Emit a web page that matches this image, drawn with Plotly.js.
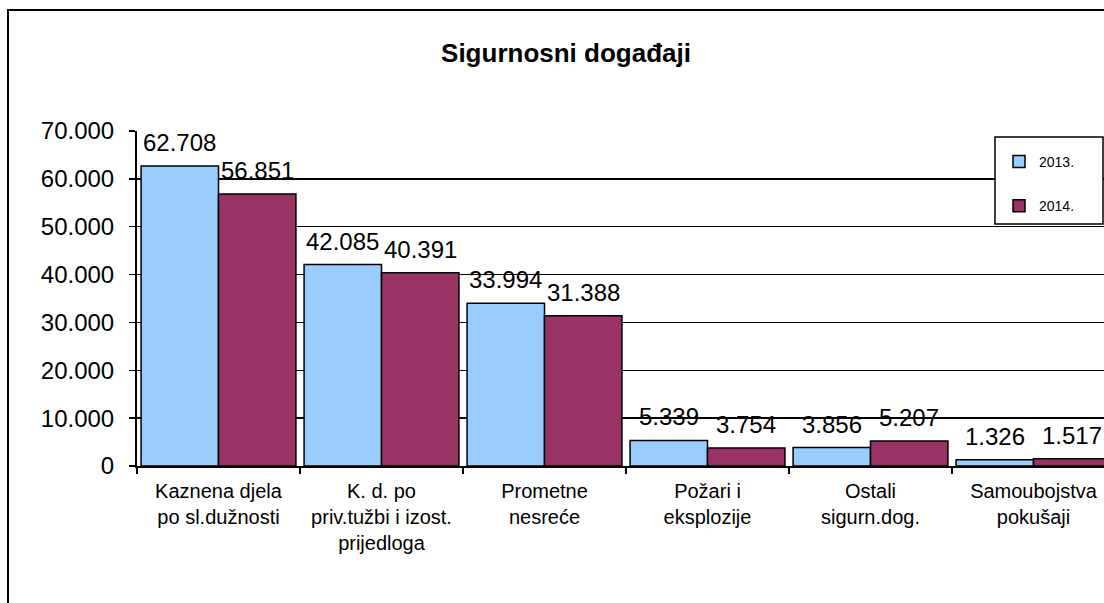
<!DOCTYPE html>
<html>
<head>
<meta charset="utf-8">
<script src="https://cdn.plot.ly/plotly-3.0.1.min.js"></script>
<style>html,body{margin:0;padding:0;background:#fff;}#chart{width:1104px;height:603px;}</style>
</head>
<body>
<div id="chart"></div>
<script>
const categories = [
  "Kaznena djela<br>po sl.dužnosti",
  "K. d. po<br>priv.tužbi i izost.<br>prijedloga",
  "Prometne<br>nesreće",
  "Požari i<br>eksplozije",
  "Ostali<br>sigurn.dog.",
  "Samoubojstva<br>pokušaji"
];
const values2013 = [62708, 42085, 33994, 5339, 3856, 1326];
const values2014 = [56851, 40391, 31388, 3754, 5207, 1517];
const seriesNames = ["2013.", "2014."];
const yTickVals = [0, 10000, 20000, 30000, 40000, 50000, 60000, 70000];
const yTickText = ["0", "10.000", "20.000", "30.000", "40.000", "50.000", "60.000", "70.000"];

const W = 1104, H = 603;
const mL = 137, mR = 0, mT = 131, mB = 137;
const plotW = W - mL - mR, plotH = H - mT - mB;
const catPx = 163;
const bargap = 0.05;
const barHalf = (1 - bargap) / 4; // offset of each bar centre from category centre

const font = "Liberation Sans, Arial, sans-serif";

function fmt(v) {
  return String(v).replace(/\B(?=(\d{3})+(?!\d))/g, ".");
}

function barTrace(name, vals, color, group) {
  return {
    type: "bar",
    name: name,
    x: categories,
    y: vals,
    legendgroup: group,
    marker: {color: color, line: {color: "#000", width: 1.5}},
    hoverinfo: "x+y"
  };
}

const data = [
  barTrace(seriesNames[0], values2013, "#99CCFF", "a"),
  barTrace(seriesNames[1], values2014, "#993366", "b")
];

const annotations = [];
[values2013, values2014].forEach((vals, s) => {
  vals.forEach((v, i) => {
    annotations.push({
      xref: "x", yref: "y",
      x: i + (s === 0 ? -barHalf : barHalf),
      y: v,
      text: fmt(v),
      showarrow: false,
      xanchor: "center", yanchor: "bottom",
      yshift: 8,
      font: {family: font, size: 24, color: "#000"}
    });
  });
});

// legend frame (pixel box of the reference legend)
const lgL = 995, lgR = 1103, lgT = 137, lgB = 224;

const layout = {
  width: W, height: H,
  margin: {l: mL, r: mR, t: mT, b: mB, pad: 0},
  paper_bgcolor: "#fff",
  plot_bgcolor: "#fff",
  separators: ",.",
  font: {family: font, color: "#000"},
  title: {
    text: "<b>Sigurnosni događaji</b>",
    font: {family: font, size: 26, color: "#000"},
    xref: "container", x: 566 / W, xanchor: "center",
    yref: "container", y: 1 - 53 / H, yanchor: "middle"
  },
  barmode: "group",
  bargap: bargap,
  bargroupgap: 0,
  showlegend: true,
  legend: {
    x: (lgL + 4 - mL) / plotW, xanchor: "left",
    y: 1 - (lgT + 9 - mT) / plotH, yanchor: "top",
    bgcolor: "rgba(0,0,0,0)",
    borderwidth: 0,
    font: {family: font, size: 14, color: "#000"},
    traceorder: "grouped",
    tracegroupgap: 23,
    itemwidth: 30
  },
  annotations: annotations,
  xaxis: {
    type: "category",
    range: [-0.5, 5.5 - 11 / catPx],
    showline: true, linecolor: "#000", linewidth: 2,
    ticks: "outside", tickson: "boundaries", ticklen: 6, tickcolor: "#000", tickwidth: 1.5,
    tickfont: {family: font, size: 20, color: "#000"},
    ticklabelstandoff: 6,
    tickangle: 0,
    showgrid: false,
    zeroline: false,
    fixedrange: true
  },
  yaxis: {
    range: [0, 70000],
    tickvals: yTickVals,
    ticktext: yTickText,
    showline: true, linecolor: "#000", linewidth: 2,
    ticks: "outside", ticklen: 6, tickcolor: "#000", tickwidth: 1.5,
    tickfont: {family: font, size: 24, color: "#000"},
    ticklabelstandoff: 10,
    showgrid: true, gridcolor: "#000", gridwidth: 1.5,
    zeroline: false,
    fixedrange: true
  },
  shapes: [
    {
      type: "rect", xref: "paper", yref: "paper",
      x0: (8 - mL) / plotW, x1: 1.1,
      y0: -0.6, y1: (H - mB - 10) / plotH,
      line: {color: "#000", width: 2},
      fillcolor: "rgba(0,0,0,0)",
      layer: "below"
    },
    {
      type: "rect", xref: "paper", yref: "paper",
      x0: (lgL - mL) / plotW, x1: (lgR - mL) / plotW,
      y0: (H - mB - lgB) / plotH, y1: (H - mB - lgT) / plotH,
      line: {color: "#000", width: 1.5},
      fillcolor: "#fff",
      layer: "above"
    }
  ]
};

Plotly.newPlot("chart", data, layout, {displayModeBar: false, staticPlot: true});
</script>
</body>
</html>
